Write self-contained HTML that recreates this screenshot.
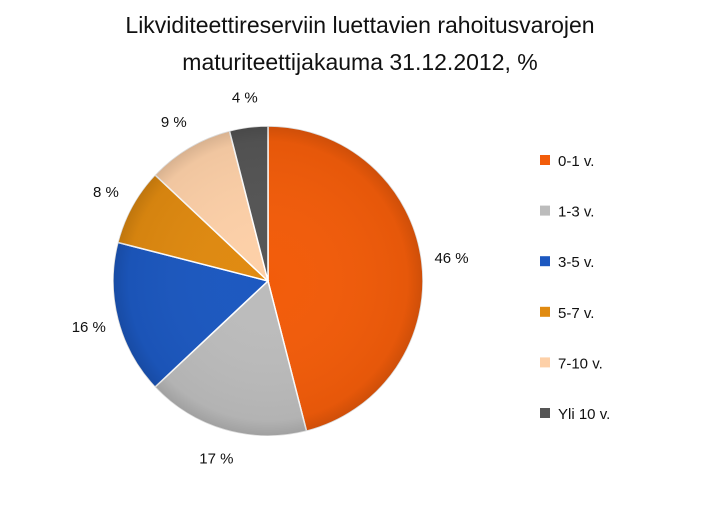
<!DOCTYPE html>
<html><head><meta charset="utf-8"><style>
body{margin:0;background:#fff;width:720px;height:522px;overflow:hidden;font-family:"Liberation Sans",sans-serif}
</style></head><body>
<svg id="chart" width="720" height="522" xmlns="http://www.w3.org/2000/svg">
<defs>
<radialGradient id="shade" cx="0.5" cy="0.5" r="0.5"><stop offset="0" stop-color="#fff" stop-opacity="0"/><stop offset="0.9" stop-color="#000" stop-opacity="0.05"/><stop offset="1" stop-color="#000" stop-opacity="0.15"/></radialGradient>
</defs>
<text x="360" y="33" text-anchor="middle" font-size="23" fill="#111">Likviditeettireserviin luettavien rahoitusvarojen</text>
<text x="360" y="70" text-anchor="middle" font-size="23" fill="#111">maturiteettijakauma 31.12.2012, %</text>
<g id="slices"></g>
<g id="labels"></g>
<g id="legend"></g>
</svg>
<script>
const categories=["0-1 v.","1-3 v.","3-5 v.","5-7 v.","7-10 v.","Yli 10 v."];
const values=[46,17,16,8,9,4];
const labelText=["46 %","17 %","16 %","8 %","9 %","4 %"];
const colors=["#f25c0a","#bcbcbc","#1c58c0","#e08a10","#fdd0a8","#555555"];
const NS="http://www.w3.org/2000/svg";
const cx=268,cy=281,r=155;
const total=values.reduce((a,b)=>a+b,0);
const sl=document.getElementById("slices"),lb=document.getElementById("labels"),lg=document.getElementById("legend");
function pt(a,rr){return [cx+rr*Math.sin(a),cy-rr*Math.cos(a)];}
let acc=0;
values.forEach((v,i)=>{
 const a0=acc/total*2*Math.PI;acc+=v;const a1=acc/total*2*Math.PI;
 const p0=pt(a0,r),p1=pt(a1,r);
 const p=document.createElementNS(NS,"path");
 p.setAttribute("d",`M${cx},${cy} L${p0[0]},${p0[1]} A${r},${r} 0 ${a1-a0>Math.PI?1:0} 1 ${p1[0]},${p1[1]} Z`);
 p.setAttribute("fill",colors[i]);p.setAttribute("stroke","#fff");p.setAttribute("stroke-width","1.5");
 
 
 sl.appendChild(p);
 const am=(a0+a1)/2,lp=pt(am,r+30);
 const t=document.createElementNS(NS,"text");
 t.setAttribute("x",lp[0]);t.setAttribute("y",lp[1]+5);t.setAttribute("text-anchor","middle");
 t.setAttribute("font-size","15");t.setAttribute("fill","#111");t.textContent=labelText[i];
 
 
 lb.appendChild(t);
 const y=160+i*50.6;
 const g=document.createElementNS(NS,"g");
 
 
 const s=document.createElementNS(NS,"rect");
 s.setAttribute("x",540);s.setAttribute("y",y-5);s.setAttribute("width",10);s.setAttribute("height",10);s.setAttribute("fill",colors[i]);
 const lt=document.createElementNS(NS,"text");
 lt.setAttribute("x",558);lt.setAttribute("y",y+6);lt.setAttribute("font-size","15");lt.setAttribute("fill","#111");lt.textContent=categories[i];
 g.appendChild(s);g.appendChild(lt);lg.appendChild(g);
});
const o=document.createElementNS(NS,"circle");
o.setAttribute("cx",cx);o.setAttribute("cy",cy);o.setAttribute("r",r);o.setAttribute("fill","url(#shade)");o.setAttribute("pointer-events","none");
sl.appendChild(o);
</script>
</body></html>
